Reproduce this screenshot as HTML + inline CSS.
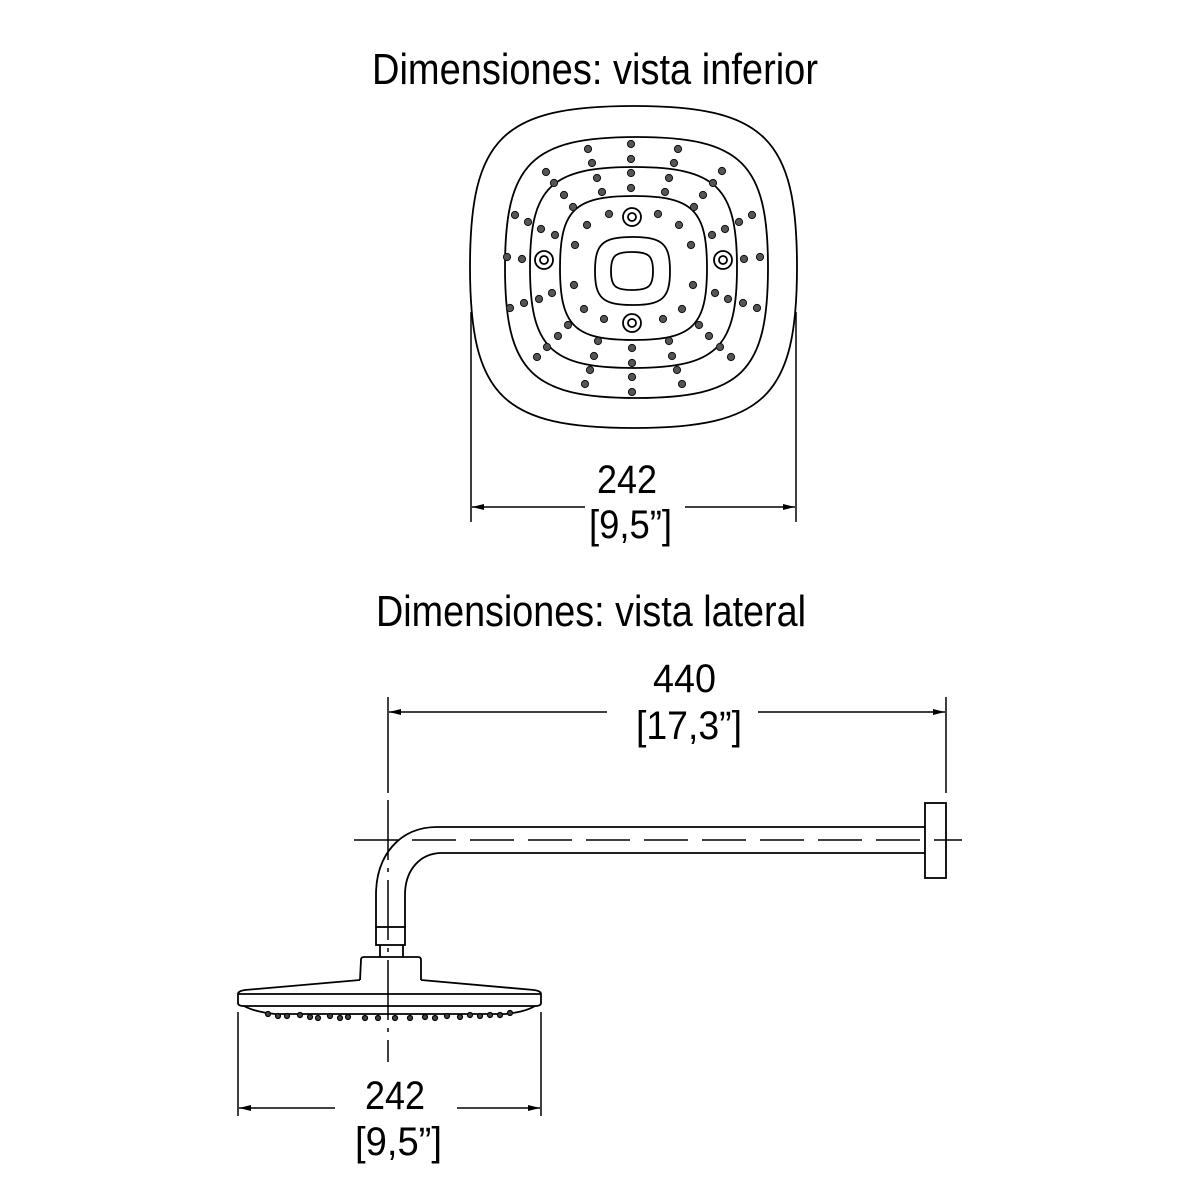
<!DOCTYPE html>
<html><head><meta charset="utf-8"><style>
html,body{margin:0;padding:0;background:#fff;}
svg{display:block;}
text{font-family:"Liberation Sans",Arial,sans-serif;fill:#000;}
</style></head><body>
<svg width="1200" height="1200" viewBox="0 0 1200 1200" xmlns="http://www.w3.org/2000/svg">
<defs>
<marker id="ar" viewBox="0 0 12 6" refX="12" refY="3" markerWidth="12" markerHeight="6" orient="auto" markerUnits="userSpaceOnUse"><path d="M0,0 L12,3 L0,6 Z" fill="#000"/></marker>
</defs>
<text x="372" y="84" font-size="44" textLength="446" lengthAdjust="spacingAndGlyphs">Dimensiones: vista inferior</text>
<text x="376" y="626" font-size="44" textLength="430" lengthAdjust="spacingAndGlyphs">Dimensiones: vista lateral</text>

<g fill="none" stroke="#000" stroke-width="1.8">
<path d="M633.5,106 C764.5,106 797,138 797,267 C797,396 764.5,428 633.5,428 C502.5,428 470,396 470,267 C470,138 502.5,106 633.5,106 Z"/>
<path d="M636.5,137 C741.5,137 768,163.5 768,267.5 C768,371.5 741.5,398 636.5,398 C531.5,398 505,371.5 505,267.5 C505,163.5 531.5,137 636.5,137 Z"/>
<path d="M633.5,167 C716.5,167 737,187.5 737,267.5 C737,347.5 716.5,368 633.5,368 C550.5,368 530,347.5 530,267.5 C530,187.5 550.5,167 633.5,167 Z"/>
<path d="M633.5,196 C692.5,196 707,210 707,268 C707,326 692.5,340 633.5,340 C574.5,340 560,326 560,268 C560,210 574.5,196 633.5,196 Z"/>
<path d="M632.5,237 C662.5,237 670,244 670,271 C670,298 662.5,305 632.5,305 C602.5,305 595,298 595,271 C595,244 602.5,237 632.5,237 Z"/>
<path d="M632,252 C649,252 653,256 653,271 C653,286 649,290 632,290 C615,290 611,286 611,271 C611,256 615,252 632,252 Z"/>
<circle cx="632" cy="217" r="9"/><circle cx="632" cy="217" r="4"/>
<circle cx="632" cy="323" r="9"/><circle cx="632" cy="323" r="4"/>
<circle cx="544" cy="260" r="9"/><circle cx="544" cy="260" r="4"/>
<circle cx="723" cy="260" r="9"/><circle cx="723" cy="260" r="4"/>
</g>
<g fill="#555" stroke="#111" stroke-width="1">
<circle cx="631" cy="144" r="3.6"/><circle cx="631" cy="159" r="3.6"/><circle cx="631" cy="173" r="3.6"/><circle cx="631" cy="188" r="3.6"/>
<circle cx="588" cy="149" r="3.6"/><circle cx="678" cy="149" r="3.6"/><circle cx="592" cy="163" r="3.6"/><circle cx="674" cy="163" r="3.6"/>
<circle cx="546" cy="172" r="3.6"/><circle cx="722" cy="171" r="3.6"/><circle cx="554" cy="183" r="3.6"/><circle cx="713" cy="183" r="3.6"/>
<circle cx="597" cy="178" r="3.6"/><circle cx="669" cy="178" r="3.6"/><circle cx="602" cy="192" r="3.6"/><circle cx="665" cy="192" r="3.6"/>
<circle cx="564" cy="195" r="3.6"/><circle cx="703" cy="195" r="3.6"/><circle cx="573" cy="207" r="3.6"/><circle cx="694" cy="207" r="3.6"/>
<circle cx="609" cy="214" r="3.6"/><circle cx="658" cy="214" r="3.6"/><circle cx="587" cy="225" r="3.6"/><circle cx="679" cy="225" r="3.6"/>
<circle cx="515" cy="215" r="3.6"/><circle cx="752" cy="215" r="3.6"/><circle cx="528" cy="222" r="3.6"/><circle cx="739" cy="222" r="3.6"/>
<circle cx="541" cy="229" r="3.6"/><circle cx="725" cy="229" r="3.6"/><circle cx="555" cy="235" r="3.6"/><circle cx="712" cy="235" r="3.6"/>
<circle cx="575" cy="245" r="3.6"/><circle cx="691" cy="245" r="3.6"/>
<circle cx="507" cy="257" r="3.6"/><circle cx="522" cy="259" r="3.6"/><circle cx="744" cy="259" r="3.6"/><circle cx="760" cy="257" r="3.6"/>
<circle cx="574" cy="285" r="3.6"/><circle cx="693" cy="285" r="3.6"/>
<circle cx="510" cy="308" r="3.6"/><circle cx="524" cy="303" r="3.6"/><circle cx="539" cy="299" r="3.6"/><circle cx="552" cy="293" r="3.6"/>
<circle cx="743" cy="303" r="3.6"/><circle cx="757" cy="308" r="3.6"/><circle cx="728" cy="299" r="3.6"/><circle cx="715" cy="293" r="3.6"/>
<circle cx="584" cy="309" r="3.6"/><circle cx="682" cy="309" r="3.6"/><circle cx="604" cy="319" r="3.6"/><circle cx="663" cy="319" r="3.6"/>
<circle cx="568" cy="325" r="3.6"/><circle cx="699" cy="325" r="3.6"/><circle cx="558" cy="336" r="3.6"/><circle cx="709" cy="336" r="3.6"/>
<circle cx="547" cy="347" r="3.6"/><circle cx="720" cy="347" r="3.6"/><circle cx="537" cy="357" r="3.6"/><circle cx="731" cy="357" r="3.6"/>
<circle cx="598" cy="341" r="3.6"/><circle cx="669" cy="341" r="3.6"/><circle cx="594" cy="356" r="3.6"/><circle cx="672" cy="356" r="3.6"/>
<circle cx="632" cy="348" r="3.6"/><circle cx="632" cy="363" r="3.6"/><circle cx="632" cy="377" r="3.6"/><circle cx="632" cy="392" r="3.6"/>
<circle cx="590" cy="370" r="3.6"/><circle cx="677" cy="370" r="3.6"/><circle cx="585" cy="384" r="3.6"/><circle cx="682" cy="384" r="3.6"/>
</g>
<g stroke="#000" stroke-width="1.5" fill="none">
<line x1="471" y1="312" x2="471" y2="522"/>
<line x1="796" y1="312" x2="796" y2="522"/>
<line x1="585" y1="507" x2="472" y2="507" marker-end="url(#ar)"/>
<line x1="685" y1="507" x2="795" y2="507" marker-end="url(#ar)"/>
</g>
<text x="597" y="493" font-size="40" textLength="60" lengthAdjust="spacingAndGlyphs">242</text>
<text x="589" y="538" font-size="40" textLength="83" lengthAdjust="spacingAndGlyphs">[9,5”]</text>

<g stroke="#000" stroke-width="1.5" fill="none">
<line x1="388" y1="697" x2="388" y2="793"/>
<line x1="946" y1="697" x2="946" y2="793"/>
<line x1="607" y1="712" x2="389" y2="712" marker-end="url(#ar)"/>
<line x1="758" y1="712" x2="945" y2="712" marker-end="url(#ar)"/>
<line x1="388" y1="800" x2="388" y2="1062" stroke-dasharray="60 8 4 8"/>
<line x1="354" y1="840" x2="962" y2="840" stroke-dasharray="44 14"/>
</g>
<g stroke="#000" stroke-width="1.8" fill="none">
<path d="M925,827 L437,827 C400,827 376,855 376,895 L376,927"/>
<path d="M925,853 L442,853 C420,853 405,870 405,895 L405,927"/>
<rect x="925" y="803" width="21" height="75"/>
<rect x="376" y="927" width="29" height="18"/>
<path d="M380,945 L380,957 M403,945 L403,957"/>
<path d="M360,980 L361,960 Q361,957 364,957 L418,957 Q421,957 421,960 L421,980"/>
<path d="M360,980 L245,990 Q238,991 238,994 L238,1003 Q238,1006 244,1006 L535,1006 Q541,1006 541,1003 L541,994 Q541,991 534,990 L421,980"/>
<line x1="238" y1="994" x2="541" y2="994"/>
<path d="M244,1006 Q255,1012 275,1014 L505,1014 Q525,1012 535,1006"/>
</g>
<g fill="#444" stroke="#000" stroke-width="1.2">
<circle cx="268" cy="1014" r="2.5"/><circle cx="278" cy="1016" r="2.5"/><circle cx="287" cy="1016" r="2.5"/><circle cx="300" cy="1015" r="2.5"/><circle cx="310" cy="1017" r="2.5"/><circle cx="318" cy="1018" r="2.5"/><circle cx="330" cy="1016" r="2.5"/><circle cx="340" cy="1018" r="2.5"/><circle cx="348" cy="1017" r="2.5"/><circle cx="365" cy="1018" r="2.5"/><circle cx="378" cy="1018" r="2.5"/><circle cx="395" cy="1018" r="2.5"/><circle cx="410" cy="1018" r="2.5"/><circle cx="425" cy="1017" r="2.5"/><circle cx="435" cy="1018" r="2.5"/><circle cx="447" cy="1016" r="2.5"/><circle cx="460" cy="1017" r="2.5"/><circle cx="470" cy="1015" r="2.5"/><circle cx="480" cy="1016" r="2.5"/><circle cx="490" cy="1015" r="2.5"/><circle cx="500" cy="1015" r="2.5"/><circle cx="510" cy="1013" r="2.5"/>
</g>
<g stroke="#000" stroke-width="1.5" fill="none">
<line x1="238" y1="1012" x2="238" y2="1116"/>
<line x1="541" y1="1012" x2="541" y2="1116"/>
<line x1="335" y1="1108" x2="239" y2="1108" marker-end="url(#ar)"/>
<line x1="457" y1="1108" x2="540" y2="1108" marker-end="url(#ar)"/>
</g>
<text x="653" y="692" font-size="40" textLength="63" lengthAdjust="spacingAndGlyphs">440</text>
<text x="636" y="739" font-size="40" textLength="106" lengthAdjust="spacingAndGlyphs">[17,3”]</text>
<text x="365" y="1109" font-size="40" textLength="60" lengthAdjust="spacingAndGlyphs">242</text>
<text x="355" y="1155" font-size="40" textLength="87" lengthAdjust="spacingAndGlyphs">[9,5”]</text>
</svg>
</body></html>
